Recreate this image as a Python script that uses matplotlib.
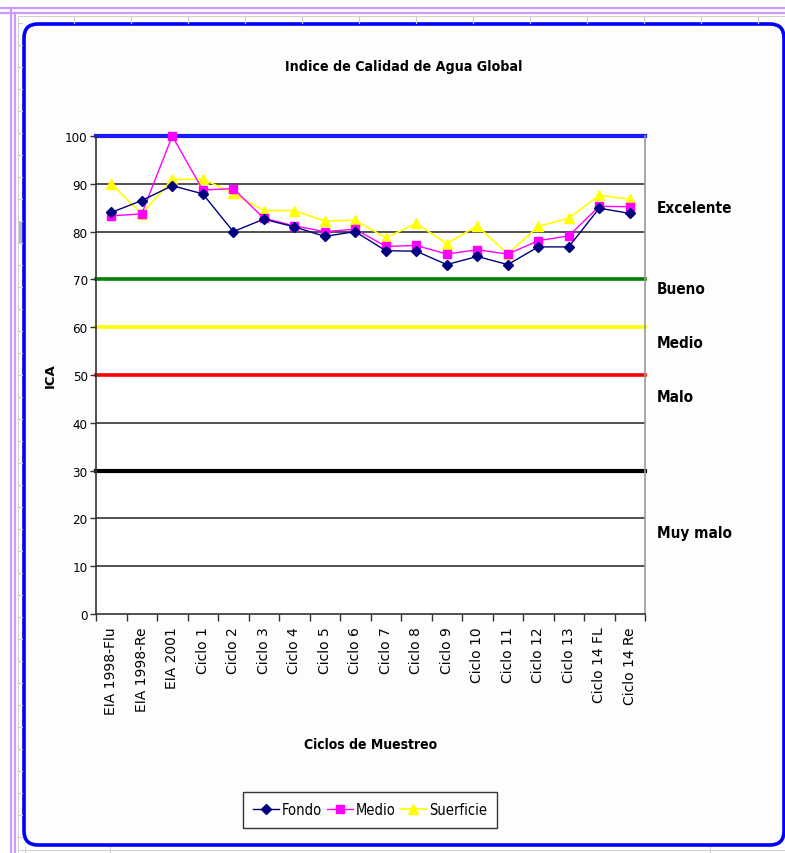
import matplotlib
matplotlib.use("Agg")
import matplotlib.pyplot as plt
from matplotlib import font_manager
from matplotlib.lines import Line2D
from matplotlib.patches import FancyBboxPatch, Rectangle
from matplotlib.transforms import IdentityTransform, blended_transform_factory

# ---------------- data ----------------
categories = ["EIA 1998-Flu", "EIA 1998-Re", "EIA 2001", "Ciclo 1", "Ciclo 2", "Ciclo 3",
              "Ciclo 4", "Ciclo 5", "Ciclo 6", "Ciclo 7", "Ciclo 8", "Ciclo 9",
              "Ciclo 10", "Ciclo 11", "Ciclo 12", "Ciclo 13", "Ciclo 14 FL", "Ciclo 14 Re"]
fondo = [84.0, 86.5, 89.6, 87.9, 80.0, 82.6, 81.0, 79.0, 80.0, 76.0, 75.9, 73.1,
         74.8, 73.1, 76.8, 76.8, 84.9, 83.8]
medio = [83.3, 83.7, 100.0, 88.7, 89.0, 82.8, 81.2, 80.0, 80.5, 76.9, 77.1, 75.3,
         76.2, 75.3, 78.1, 79.1, 85.3, 85.2]
superficie = [90.0, 83.7, 90.9, 91.0, 88.0, 84.4, 84.4, 82.2, 82.4, 78.7, 81.7, 77.5,
              81.2, 75.3, 81.1, 82.8, 87.6, 86.8]
series_names = ["Fondo", "Medio", "Suerficie"]

y_ticks = [0, 10, 20, 30, 40, 50, 60, 70, 80, 90, 100]
threshold_values = [100, 70, 60, 50, 30]
threshold_colors = ["#1a1aff", "#008000", "#ffff00", "#ff0000", "#000000"]
quality_labels = ["Excelente", "Bueno", "Medio", "Malo", "Muy malo"]
quality_label_y = [85.1, 68.0, 56.7, 45.4, 17.0]

# ---------------- figure ----------------
W, H = 785, 854
fig = plt.figure(figsize=(W / 100, H / 100), dpi=100)
fig.patch.set_facecolor("white")

cond = [f for f in font_manager.fontManager.ttflist if f.name == "DejaVu Sans" and "ondensed" in f.fname]
NARROW = "DejaVu Sans"
STRETCH = "condensed" if cond else "normal"

def nfont(size, bold=False):
    return dict(family=NARROW, fontstretch=STRETCH, fontsize=size,
                fontweight="bold" if bold else "normal")

def P(x, y):
    return x, H - y

# spreadsheet background decoration
for (x0, y0, x1, y1, c, lw) in [
    (0, 9, W, 9, "#cc99ff", 2.2), (0, 14, W, 14, "#cc99ff", 2.2),
    (11, 9, 11, H, "#cc99ff", 2.2), (15, 14, 15, H, "#cc99ff", 2.2),
    (18, 17, W, 17, "#d0d0d0", 1.0), (18, 17, 18, H, "#d0d0d0", 1.0),
    (18, 851, W, 851, "#d0d0d0", 1.0),
]:
    (a, b), (c2, d) = P(x0, y0), P(x1, y1)
    fig.add_artist(Line2D([a, c2], [b, d], transform=IdentityTransform(), color=c, lw=lw * 0.72))
for xv in range(74, W, 57):
    (a, b), (c2, d) = P(xv, 17), P(xv, 24)
    fig.add_artist(Line2D([a, c2], [b, d], transform=IdentityTransform(), color="#d0d0d0", lw=0.8))
for yv in range(24, H, 22):
    (a, b), (c2, d) = P(18, yv), P(22, yv)
    fig.add_artist(Line2D([a, c2], [b, d], transform=IdentityTransform(), color="#d0d0d0", lw=0.8))
for xv in [25, 110, 710]:
    (a, b), (c2, d) = P(xv, 848), P(xv, 854)
    fig.add_artist(Line2D([a, c2], [b, d], transform=IdentityTransform(), color="#d0d0d0", lw=0.8))
fig.add_artist(Rectangle(P(18, 245), 4, 23, transform=IdentityTransform(),
                         facecolor="#bbbbbb", edgecolor="none"))

# blue rounded border
bx0, by0 = P(24, 846)
fig.add_artist(FancyBboxPatch((bx0, by0), 784 - 24, 846 - 25,
                              boxstyle="round,pad=0,rounding_size=14",
                              transform=IdentityTransform(), facecolor="#fdfdfd",
                              edgecolor="#0000ff", lw=2.6, zorder=0.5))

# axes
L, R, T, B = 96, 645, 137, 615
ax = fig.add_axes([L / W, 1 - B / H, (R - L) / W, (B - T) / H])
ax.set_facecolor("white")
ax.set_zorder(2)

x = list(range(len(categories)))
ax.set_xlim(-0.5, len(categories) - 0.5)
ax.set_ylim(0, 100)

for v in y_ticks:
    if v not in threshold_values and v != 0:
        ax.axhline(v, color="#222222", lw=1.1, zorder=1)
for v, c in zip(threshold_values, threshold_colors):
    lw = 3.0 if v in (100, 30) else 2.6
    ax.axhline(v, color=c, lw=lw, zorder=1.5, clip_on=False)

l1, = ax.plot(x, fondo, color="#000080", lw=1.0, marker="D", ms=5.5, label=series_names[0])
l2, = ax.plot(x, medio, color="#ff00ff", lw=1.0, marker="s", ms=6, label=series_names[1])
l3, = ax.plot(x, superficie, color="#ffff00", lw=1.2, marker="^", ms=7, label=series_names[2])
for ln in (l3, l2, l1):
    ln.set_clip_on(False)
l3.set_zorder(2.6); l2.set_zorder(2.8); l1.set_zorder(3)

ax.spines["top"].set_visible(False)
ax.spines["left"].set_color("#333333")
ax.spines["bottom"].set_color("#333333")
ax.spines["right"].set_color("#999999")
for s in ["left", "bottom", "right"]:
    ax.spines[s].set_linewidth(1.2)

ax.set_yticks(y_ticks)
ax.set_yticklabels([str(v) for v in y_ticks], **nfont(9.5))
ax.tick_params(axis="y", length=4, width=1, pad=2, color="#333333")

ax.set_xticks(x)
ax.set_xticklabels(categories, rotation=90, family="DejaVu Sans", fontsize=10)
ax.set_xticks([i - 0.5 for i in range(len(categories) + 1)], minor=True)
ax.tick_params(axis="x", which="major", length=0, pad=9)
ax.tick_params(axis="x", which="minor", length=5, width=1, color="#333333")

ax.set_ylabel("ICA", family="DejaVu Sans", fontweight="bold", fontsize=9.5)
ax.yaxis.set_label_coords((57 - L) / (R - L), 0.5)
ax.set_xlabel("Ciclos de Muestreo", **nfont(10, True))
ax.xaxis.set_label_coords(0.5, -(745 - B) / (B - T))
ax.xaxis.label.set_va("center")

fig.text(404 / W, 1 - 67 / H, "Indice de Calidad de Agua Global", ha="center", va="center",
         **nfont(10.2, True))

tr = blended_transform_factory(ax.transAxes, ax.transData)
for lab, yv in zip(quality_labels, quality_label_y):
    ax.text((657 - L) / (R - L), yv, lab, transform=tr, ha="left", va="center",
            clip_on=False, **nfont(11, True))

leg = fig.legend(handles=[l1, l2, l3], loc="center", bbox_to_anchor=(370 / W, 1 - 811 / H),
                 ncol=3, frameon=True, fancybox=False, edgecolor="black",
                 prop=font_manager.FontProperties(family=NARROW, stretch=STRETCH, size=10.5),
                 handlelength=1.8, handletextpad=0.15, columnspacing=0.35, borderpad=0.7,
                 borderaxespad=0)
leg.get_frame().set_linewidth(1.0)

fig.savefig("out.png", dpi=100)
